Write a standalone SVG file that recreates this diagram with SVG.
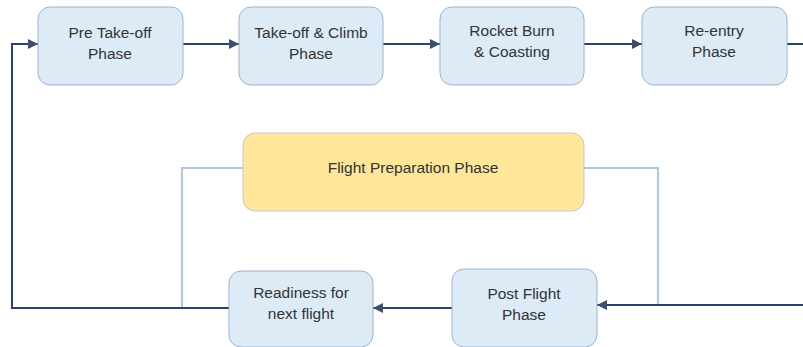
<svg xmlns="http://www.w3.org/2000/svg" width="803" height="347" viewBox="0 0 803 347">
<style>
.node rect{fill:#DDEBF7;stroke:#9DB3CF;stroke-width:1}
.prep rect{fill:#FFE699;stroke:#BFC9D6;stroke-width:1}
text{font-family:"Liberation Sans",Arial,sans-serif;font-size:15.5px;fill:#333;text-anchor:middle}
.main{fill:none;stroke:#2B4270;stroke-width:2}
.light{fill:none;stroke:#A9C8EA;stroke-width:2}
</style>
<defs>
<marker id="ah" viewBox="0 0 10 10" refX="10" refY="5" markerWidth="5" markerHeight="5" orient="auto" markerUnits="strokeWidth">
<path d="M0,0 L10,5 L0,10 z" fill="#3C4E6E"/>
</marker>
</defs>
<g id="connectors">
<path class="light" d="M243,168 H182 V308"/>
<path class="light" d="M584,168 H658 V304"/>
<path class="main" d="M183,44 H239" marker-end="url(#ah)"/>
<path class="main" d="M383,44 H440" marker-end="url(#ah)"/>
<path class="main" d="M584,44 H642" marker-end="url(#ah)"/>
<path class="main" d="M787,44 H803"/>
<path class="main" d="M803,305 H597" marker-end="url(#ah)"/>
<path class="main" d="M452,308 H373" marker-end="url(#ah)"/>
<path class="main" d="M229,308 H12 V44 H38" marker-end="url(#ah)"/>
</g>
<g id="pretakeoff" class="node"><rect x="38" y="7" width="145" height="78" rx="12"/><text x="110" y="38">Pre Take-off</text><text x="110" y="59">Phase</text></g>
<g id="takeoff" class="node"><rect x="239" y="7" width="144" height="78" rx="12"/><text x="311" y="38">Take-off &amp; Climb</text><text x="311" y="59">Phase</text></g>
<g id="rocket" class="node"><rect x="440" y="7" width="144" height="78" rx="12"/><text x="512" y="36">Rocket Burn</text><text x="512" y="57">&amp; Coasting</text></g>
<g id="reentry" class="node"><rect x="642" y="7" width="145" height="78" rx="12"/><text x="714" y="36">Re-entry</text><text x="714" y="57">Phase</text></g>
<g id="prep" class="prep"><rect x="243" y="133" width="341" height="78" rx="12"/><text x="413" y="173">Flight Preparation Phase</text></g>
<g id="readiness" class="node"><rect x="229" y="271" width="144" height="76" rx="12"/><text x="301" y="298">Readiness for</text><text x="301" y="319">next flight</text></g>
<g id="postflight" class="node"><rect x="452" y="269" width="145" height="78" rx="12"/><text x="524" y="299">Post Flight</text><text x="524" y="320">Phase</text></g>
</svg>
